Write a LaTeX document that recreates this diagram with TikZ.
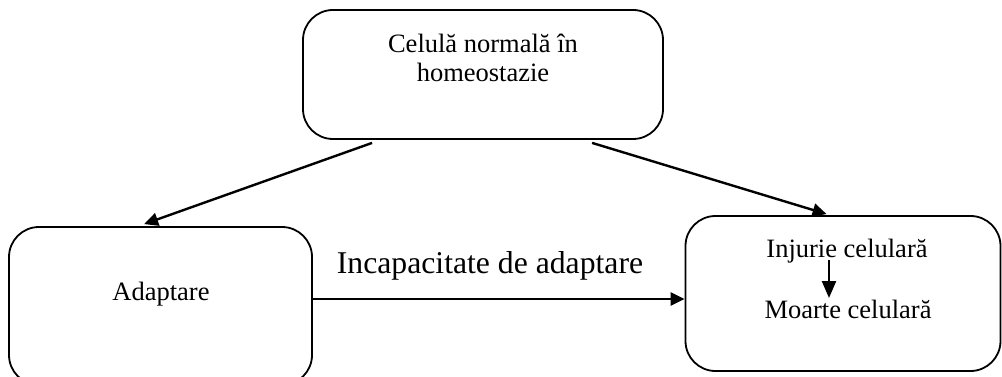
\documentclass[tikz,border=0pt]{standalone}
\usepackage{fontspec}
\setmainfont{Liberation Serif}
\usetikzlibrary{arrows.meta}
\begin{document}
\begin{tikzpicture}[x=1pt,y=-1pt,
  box/.style={draw,line width=1.8pt,rounded corners=30pt,inner sep=0pt},
  txt/.style={anchor=base,inner sep=0pt,font=\fontsize{26.5}{30}\selectfont},
  lbl/.style={anchor=base,inner sep=0pt,font=\fontsize{31.7}{36}\selectfont},
  arr/.style={line width=2.4pt,-{Triangle[length=14pt,width=13pt]}},
  arrb/.style={line width=2.4pt,-{Triangle[length=17pt,width=14pt]}}]
\useasboundingbox (0,0) rectangle (1002,377);
\node[box,minimum width=360pt,minimum height=129pt] (top) at (483,74.5) {};
\node[box,minimum width=303pt,minimum height=158pt] (left) at (160.5,306) {};
\node[box,minimum width=315pt,minimum height=155pt] (right) at (843,293.5) {};
\node[txt] (t1) at (483,53) {Celulă normală în};
\node[txt] (t2) at (483,82) {homeostazie};
\node[txt] (ad) at (161,300) {Adaptare};
\node[txt] (inj) at (847,257) {Injurie celulară};
\node[txt] (moa) at (848,318) {Moarte celulară};
\node[lbl] (inc) at (490,273) {Incapacitate de adaptare};
\draw[arr] ([xshift=70pt,yshift=-3pt]top.south west) -- ([xshift=136pt,yshift=2pt]left.north west);
\draw[arr] ([xshift=290pt,yshift=-3pt]top.south west) -- ([xshift=142pt,yshift=1pt]right.north west);
\draw[arr] ([yshift=7pt]left.east) -- ([yshift=-5.5pt]right.west);
\draw[arrb] ([xshift=-18pt,yshift=-3pt]inj.base) -- ([xshift=-19pt,yshift=20pt]moa.base);
\end{tikzpicture}
\end{document}
